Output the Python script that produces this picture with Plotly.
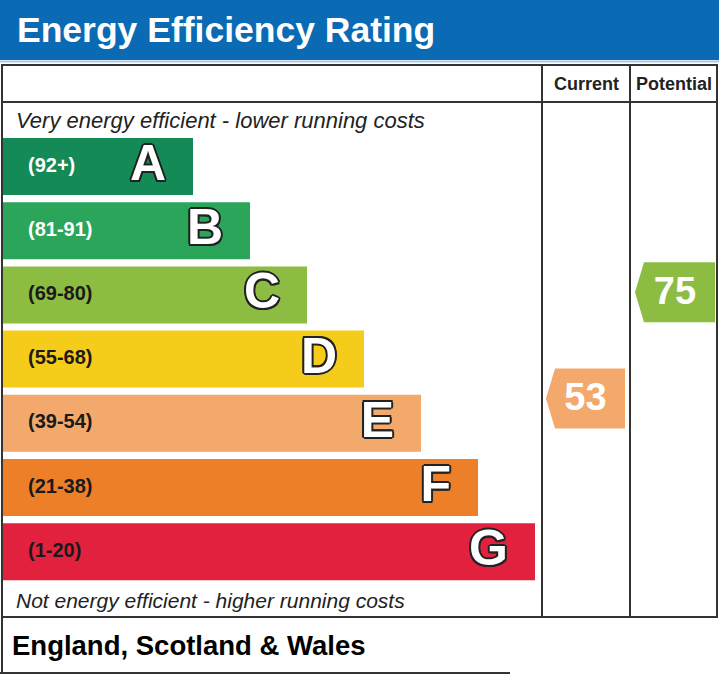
import plotly.graph_objects as go

# EPC bands
bands = ["A", "B", "C", "D", "E", "F", "G"]
band_ranges = ["(92+)", "(81-91)", "(69-80)", "(55-68)", "(39-54)", "(21-38)", "(1-20)"]
band_low = [92, 81, 69, 55, 39, 21, 1]
band_high = [100, 91, 80, 68, 54, 38, 20]
band_colors = ["#148a56", "#2ba55a", "#8dbc43", "#f5cc1a", "#f2a96b", "#ec7f28", "#e1213e"]
range_text_colors = ["white", "white", "#1a1a1a", "#1a1a1a", "#1a1a1a", "#1a1a1a", "#1a1a1a"]

current_rating = 53
potential_rating = 75

# layout in page pixels
W, H = 719, 675
bar_top0, bar_step, bar_h = 138, 64.2, 57
bar_x0, bar_len0, bar_len_step = 2, 191, 57
col_cur = (542, 630)
col_pot = (630, 717)
font = "Arial, Liberation Sans, sans-serif"

tops = [bar_top0 + bar_step * i for i in range(len(bands))]
centers = [t + bar_h / 2 for t in tops]
lengths = [bar_len0 + bar_len_step * i for i in range(len(bands))]
ends = [bar_x0 + l for l in lengths]


def value_y(v):
    for i, (lo, hi) in enumerate(zip(band_low, band_high)):
        if lo <= v <= hi:
            frac = (v - lo) / (hi - lo)
            return tops[i] + bar_h - frac * bar_h, i
    return centers[-1], len(bands) - 1


def arrow(v, x0, x1):
    yc, i = value_y(v)
    hh, tip = 30, 9
    xs = [x0, x0 + tip, x1, x1, x0 + tip, x0]
    ys = [yc, yc - hh, yc - hh, yc + hh, yc + hh, yc]
    return xs, ys, yc, band_colors[i]


fig = go.Figure()

fig.add_trace(
    go.Bar(
        orientation="h",
        y=centers,
        x=lengths,
        base=bar_x0,
        width=bar_h,
        marker=dict(color=band_colors, line=dict(width=0)),
        hoverinfo="skip",
    )
)

for i in range(len(bands)):
    fig.add_trace(
        go.Scatter(
            x=[28],
            y=[centers[i]],
            mode="text",
            text=[band_ranges[i]],
            textposition="middle right",
            textfont=dict(family=font, size=20, color=range_text_colors[i], weight="bold"),
            hoverinfo="skip",
        )
    )

outline = "2px 0 0 #222, -2px 0 0 #222, 0 2px 0 #222, 0 -2px 0 #222, 1.5px 1.5px 0 #222, -1.5px -1.5px 0 #222, 1.5px -1.5px 0 #222, -1.5px 1.5px 0 #222"
fig.add_trace(
    go.Scatter(
        x=[e - 27 for e in ends],
        y=[c + 1 for c in centers],
        mode="text",
        text=bands,
        textposition="middle left",
        textfont=dict(family=font, size=50, color="white", weight="bold", shadow=outline),
        hoverinfo="skip",
    )
)

for v, (cx0, cx1) in [(current_rating, (546, 625)), (potential_rating, (635, 715))]:
    xs, ys, yc, col = arrow(v, cx0, cx1)
    fig.add_trace(
        go.Scatter(
            x=xs, y=ys, mode="lines", fill="toself", fillcolor=col,
            line=dict(width=0, color=col), hoverinfo="skip",
        )
    )
    fig.add_trace(
        go.Scatter(
            x=[(cx0 + cx1) / 2], y=[yc + 2], mode="text", text=[str(v)],
            textposition="middle center",
            textfont=dict(family=font, size=38, color="white", weight="bold"),
            hoverinfo="skip",
        )
    )

line_col = "#333333"
shapes = [
    dict(type="rect", x0=0, x1=W, y0=0, y1=60, fillcolor="#0b6ab4", line=dict(width=0), layer="below"),
    dict(type="line", x0=0, x1=W, y0=61.5, y1=61.5, line=dict(color="#a9c8e6", width=2)),
    dict(type="rect", x0=2, x1=717, y0=65, y1=617, line=dict(color=line_col, width=2), layer="above"),
    dict(type="line", x0=2, x1=717, y0=102, y1=102, line=dict(color=line_col, width=2)),
    dict(type="line", x0=col_cur[0], x1=col_cur[0], y0=65, y1=617, line=dict(color=line_col, width=2)),
    dict(type="line", x0=col_pot[0], x1=col_pot[0], y0=65, y1=617, line=dict(color=line_col, width=2)),
    dict(type="line", x0=2, x1=2, y0=617, y1=673, line=dict(color=line_col, width=2)),
    dict(type="line", x0=0, x1=510, y0=673, y1=673, line=dict(color=line_col, width=2)),
]

annotations = [
    dict(x=15, y=30, text="Energy Efficiency Rating", xanchor="left", yanchor="middle",
         font=dict(family=font, size=35.5, color="white", weight="bold")),
    dict(x=sum(col_cur) / 2, y=84, text="Current", xanchor="center", yanchor="middle",
         font=dict(family=font, size=18, color="#222", weight="bold")),
    dict(x=sum(col_pot) / 2, y=84, text="Potential", xanchor="center", yanchor="middle",
         font=dict(family=font, size=18, color="#222", weight="bold")),
    dict(x=14, y=120, text="Very energy efficient - lower running costs", xanchor="left", yanchor="middle",
         font=dict(family=font, size=22, color="#222", style="italic")),
    dict(x=14, y=600, text="Not energy efficient - higher running costs", xanchor="left", yanchor="middle",
         font=dict(family=font, size=21, color="#222", style="italic")),
    dict(x=10, y=645, text="England, Scotland & Wales", xanchor="left", yanchor="middle",
         font=dict(family=font, size=27.5, color="black", weight="bold")),
]
for a in annotations:
    a.update(xref="x", yref="y", showarrow=False)

fig.update_layout(
    width=W,
    height=H,
    margin=dict(l=0, r=0, t=0, b=0),
    paper_bgcolor="white",
    plot_bgcolor="white",
    showlegend=False,
    xaxis=dict(range=[0, W], visible=False, fixedrange=True),
    yaxis=dict(range=[H, 0], visible=False, fixedrange=True),
    shapes=shapes,
    annotations=annotations,
)

fig.write_html(
    "out.html",
    config={"displayModeBar": False},
    post_script="document.body.style.margin='0';",
)
